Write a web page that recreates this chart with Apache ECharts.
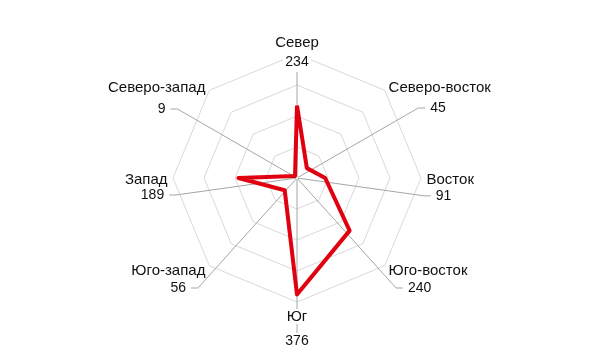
<!DOCTYPE html>
<html><head><meta charset="utf-8">
<script src="https://cdn.jsdelivr.net/npm/echarts@6.0.0/dist/echarts.min.js"></script>
<style>html,body{margin:0;padding:0;background:#fff}#c{width:602px;height:359px}</style>
</head><body><div id="c"></div>
<script>
// ---- data ----
const directions = ['Север', 'Северо-восток', 'Восток', 'Юго-восток', 'Юг', 'Юго-запад', 'Запад', 'Северо-запад'];
const counts = [234, 45, 91, 240, 376, 56, 189, 9];
const axisMin = 0;
const axisMax = 400;
const ringCount = 4;

// ---- layout / style ----
const FONT = '"Liberation Sans", Arial, sans-serif';
const CENTER = [297, 178];
const RADIUS = 124;
const NAME_CENTER = [297, 179.5];
const NAME_RADIUS = 124.5;
// angular spread (deg, clockwise from north) used to fan out the value labels
const labelSpread = [82, 38, 38, 42, 42, 42, 38, 38];
// leader line length (px) from the centre to each value label
const leaderLen = [106, 140, 128, 148, 156, 148, 122, 138];

// radar indicators run counter-clockwise, so reorder
const radarOrder = [0, 7, 6, 5, 4, 3, 2, 1];
const indicators = radarOrder.map(i => ({ name: directions[i], min: axisMin, max: axisMax }));
const radarValues = radarOrder.map(i => counts[i]);

const pieData = directions.map((d, i) => {
  const vertical = (i === 0 || i === 4);
  let fmt;
  if (i === 0) fmt = '{c|' + counts[i] + '}\n{g| }';
  else if (i === 4) fmt = '{h| }\n{c|' + counts[i] + '}';
  else fmt = '{v|' + counts[i] + '}';
  return {
    name: d,
    value: labelSpread[i],
    label: { distanceToLabelLine: vertical ? -14 : 5, formatter: fmt },
    labelLine: { length: leaderLen[i] - 1, length2: vertical ? 0 : 7 }
  };
});

const baseRadar = {
  startAngle: 90, splitNumber: ringCount,
  shape: 'polygon', indicator: indicators,
  axisLine: { show: false }, axisTick: { show: false }, axisLabel: { show: false },
  splitArea: { show: false }
};

const chart = echarts.init(document.getElementById('c'), null, { renderer: 'canvas' });
chart.setOption({
  animation: false,
  backgroundColor: '#fff',
  radar: [
    Object.assign({}, baseRadar, {
      z: 0, center: CENTER, radius: RADIUS,
      axisName: { show: false },
      splitLine: { show: true, lineStyle: { color: '#d9d9d9', width: 1 } }
    }),
    Object.assign({}, baseRadar, {
      z: 10, center: NAME_CENTER, radius: NAME_RADIUS,
      axisNameGap: 5,
      axisName: { show: true, color: '#111', fontSize: 15, fontFamily: FONT, backgroundColor: '#fff' },
      splitLine: { show: false }
    })
  ],
  series: [
    {
      type: 'pie', z: 2, silent: true,
      center: CENTER, radius: [0, 1],
      startAngle: 90 + labelSpread[0] / 2, clockwise: true,
      avoidLabelOverlap: false,
      itemStyle: { color: 'rgba(0,0,0,0)' },
      emphasis: { disabled: true },
      label: {
        show: true, position: 'outside', alignTo: 'none',
        color: '#111', fontSize: 14, fontFamily: FONT,
        rich: {
          v: { fontSize: 14, fontFamily: FONT, color: '#111', backgroundColor: '#fff' },
          c: { fontSize: 14, fontFamily: FONT, color: '#111', backgroundColor: '#fff', width: 28, align: 'center', height: 17, lineHeight: 17 },
          g: { fontSize: 14, height: 19, lineHeight: 19 },
          h: { fontSize: 14, height: 15, lineHeight: 15 }
        }
      },
      labelLine: { show: true, smooth: false, lineStyle: { color: '#a6a6a6', width: 1 } },
      data: pieData
    },
    {
      type: 'radar', radarIndex: 0, z: 3, silent: true,
      symbol: 'none',
      lineStyle: { color: '#e1000f', width: 4 },
      data: [{ value: radarValues, name: 'Количество' }]
    }
  ]
});
</script>
</body></html>
